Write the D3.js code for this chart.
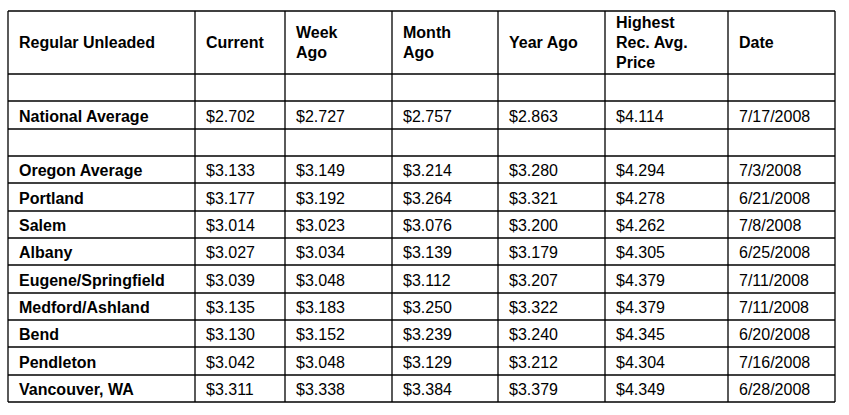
<!DOCTYPE html><html><head><meta charset="utf-8"><script src="https://d3js.org/d3.v7.min.js"></script>
<style>body{margin:0;background:#fff}</style></head><body><svg id="c" width="849" height="415"></svg><script>
const headers=[["Regular Unleaded"],["Current"],["Week","Ago"],["Month","Ago"],["Year Ago"],["Highest","Rec. Avg.","Price"],["Date"]];
const regions=["National Average",null,"Oregon Average","Portland","Salem","Albany","Eugene/Springfield","Medford/Ashland","Bend","Pendleton","Vancouver, WA"];
const current=["$2.702",null,"$3.133","$3.177","$3.014","$3.027","$3.039","$3.135","$3.130","$3.042","$3.311"];
const weekAgo=["$2.727",null,"$3.149","$3.192","$3.023","$3.034","$3.048","$3.183","$3.152","$3.048","$3.338"];
const monthAgo=["$2.757",null,"$3.214","$3.264","$3.076","$3.139","$3.112","$3.250","$3.239","$3.129","$3.384"];
const yearAgo=["$2.863",null,"$3.280","$3.321","$3.200","$3.179","$3.207","$3.322","$3.240","$3.212","$3.379"];
const highest=["$4.114",null,"$4.294","$4.278","$4.262","$4.305","$4.379","$4.379","$4.345","$4.304","$4.349"];
const dates=["7/17/2008",null,"7/3/2008","6/21/2008","7/8/2008","6/25/2008","7/11/2008","7/11/2008","6/20/2008","7/16/2008","6/28/2008"];
const colX=[8,195,285,392,498,605,728,835];
const rowY=[11,74,101,129,156,183,211,238,265,293,320,347,375,402];
const svg=d3.select("#c");
const g=svg.append("g").attr("font-family","'Liberation Sans',Arial,sans-serif").attr("font-size",16).attr("fill","#000");
// rows: index 0 header, 1 blank, 2.. body
const cols=[regions,current,weekAgo,monthAgo,yearAgo,highest,dates];
for(let c=0;c<7;c++){
  const x=colX[c]+11;
  const hy0=rowY[0],hy1=rowY[1];const lines=headers[c];const lh=20;const mid=(hy0+hy1)/2;
  lines.forEach((t,i)=>g.append("text").attr("x",x).attr("y",mid+(i-(lines.length-1)/2)*lh).attr("dy","0.35em").attr("font-weight","bold").text(t));
  cols[c].forEach((v,r)=>{if(v==null)return;const y0=rowY[r+2],y1=rowY[r+3];
    g.append("text").attr("x",x).attr("y",(y0+y1)/2+1).attr("dy","0.35em").attr("font-weight",c==0?"bold":"normal").text(v);});
}
const L=svg.append("g").attr("stroke","#000").attr("stroke-width",1.3);
rowY.forEach(y=>L.append("line").attr("x1",colX[0]).attr("x2",colX[7]).attr("y1",y).attr("y2",y));
colX.forEach(x=>L.append("line").attr("x1",x).attr("x2",x).attr("y1",rowY[0]).attr("y2",rowY[rowY.length-1]));
</script></body></html>
